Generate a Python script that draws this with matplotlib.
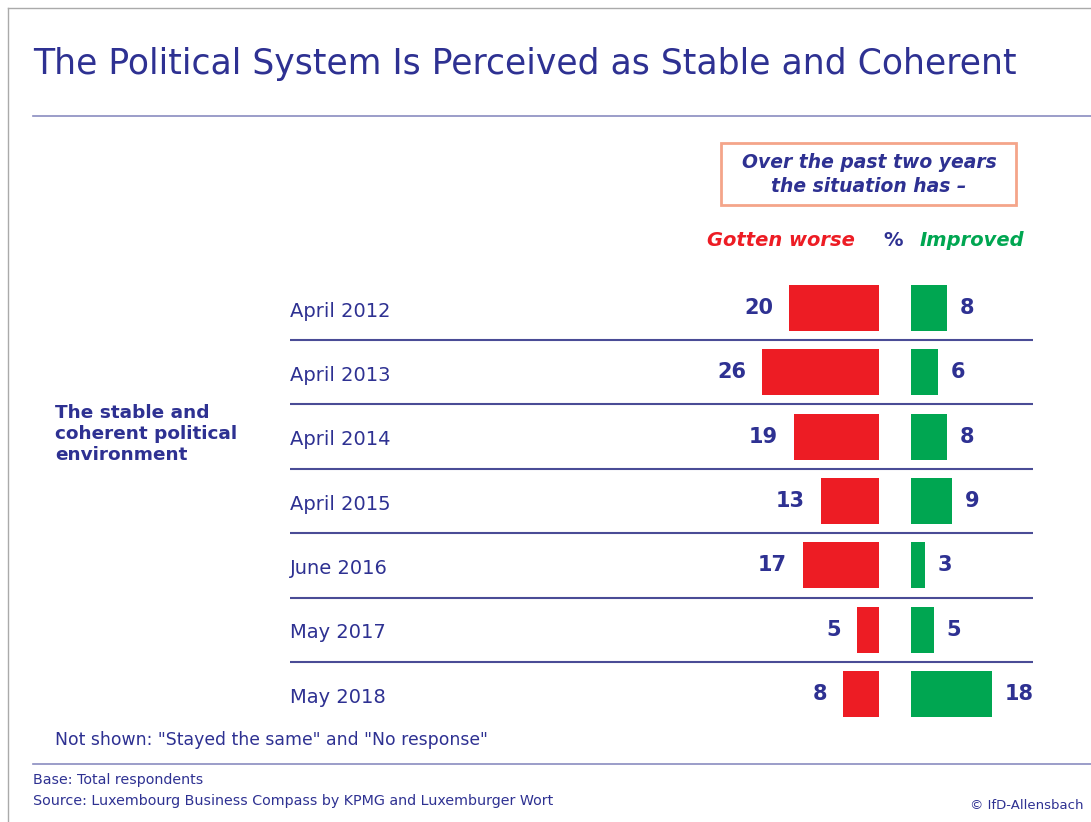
import numpy as np
import matplotlib.pyplot as plt
from matplotlib.patches import Rectangle

periods = ['April 2012', 'April 2013', 'April 2014', 'April 2015',
           'June 2016', 'May 2017', 'May 2018']
worse = [20, 26, 19, 13, 17, 5, 8]
improved = [8, 6, 8, 9, 3, 5, 18]

navy = '#2E3192'
red = '#ED1C24'
green = '#00A651'
W, H = 1091, 822

plt.rcParams['font.family'] = ['DejaVu Sans']
fig = plt.figure(figsize=(W / 100, H / 100), dpi=100)

def fx(px):
    return px / W

def fy(py):
    return 1 - py / H

# outer frame (left and top edges visible)
fig.add_artist(plt.Line2D([fx(8), fx(8)], [fy(8), 0], color='#AAAAAA', lw=1))
fig.add_artist(plt.Line2D([fx(8), 1], [fy(8), fy(8)], color='#AAAAAA', lw=1))

fig.text(fx(33), fy(64), 'The Political System Is Perceived as Stable and Coherent',
         fontsize=24.9, color=navy, va='center', ha='left')
fig.add_artist(plt.Line2D([fx(33), 1], [fy(116), fy(116)], color='#8A8CC0', lw=1.2))

# header box
fig.add_artist(Rectangle((fx(721), fy(205)), fx(1016) - fx(721), fy(143) - fy(205),
                         fill=False, edgecolor='#F4A58A', lw=2, transform=fig.transFigure))
fig.text(fx(869), fy(162), 'Over the past two years', fontsize=13.5, color=navy,
         fontweight='bold', style='italic', ha='center', va='center')
fig.text(fx(869), fy(187), 'the situation has \u2013', fontsize=13.5, color=navy,
         fontweight='bold', style='italic', ha='center', va='center')

fig.text(fx(855), fy(240), 'Gotten worse', fontsize=14, color=red,
         fontweight='bold', style='italic', ha='right', va='center')
fig.text(fx(893), fy(240), '%', fontsize=14, color=navy,
         fontweight='bold', ha='center', va='center')
fig.text(fx(920), fy(240), 'Improved', fontsize=14, color=green,
         fontweight='bold', style='italic', ha='left', va='center')

fig.text(fx(55), fy(434), 'The stable and\ncoherent political\nenvironment',
         fontsize=13.3, color=navy, fontweight='bold', ha='left', va='center',
         linespacing=1.2)

# bar area
scale = 4.5
center_px = 895
half_gap = 16 / scale
ax_left, ax_right = 290, 1033
ax_top, ax_bot = 275.8, 726.2
ax = fig.add_axes([fx(ax_left), fy(ax_bot), fx(ax_right - ax_left), (ax_bot - ax_top) / H])
ax.set_xlim((ax_left - center_px) / scale, (ax_right - center_px) / scale)
ax.set_ylim(len(periods) - 0.5, -0.5)
ax.axis('off')

y = np.arange(len(periods))
w = np.array(worse)
im = np.array(improved)
ax.barh(y, w, left=-half_gap - w, height=0.715, color=red)
ax.barh(y, im, left=half_gap, height=0.715, color=green)

for i in range(len(periods)):
    ax.text(-half_gap - w[i] - 3.5, i, str(w[i]), ha='right', va='center',
            fontsize=15, fontweight='bold', color=navy)
    ax.text(half_gap + im[i] + 2.9, i, str(im[i]), ha='left', va='center',
            fontsize=15, fontweight='bold', color=navy)
    ax.text(0, i + 0.05, periods[i], transform=ax.get_yaxis_transform(),
            ha='left', va='center', fontsize=14, color=navy)
for i in range(len(periods) - 1):
    ax.axhline(i + 0.5, color='#4A4C96', lw=1.5)

fig.text(fx(55), fy(740), 'Not shown: "Stayed the same" and "No response"',
         fontsize=12.4, color=navy, ha='left', va='center')
fig.add_artist(plt.Line2D([fx(33), 1], [fy(764), fy(764)], color='#8A8CC0', lw=1.2))
fig.text(fx(33), fy(780), 'Base: Total respondents', fontsize=10.3, color=navy,
         ha='left', va='center')
fig.text(fx(33), fy(801), 'Source: Luxembourg Business Compass by KPMG and Luxemburger Wort',
         fontsize=10.3, color=navy, ha='left', va='center')
fig.text(fx(1083), fy(805), '\u00a9 IfD-Allensbach', fontsize=9.5, color=navy,
         ha='right', va='center')

fig.savefig('out.png', dpi=100)
